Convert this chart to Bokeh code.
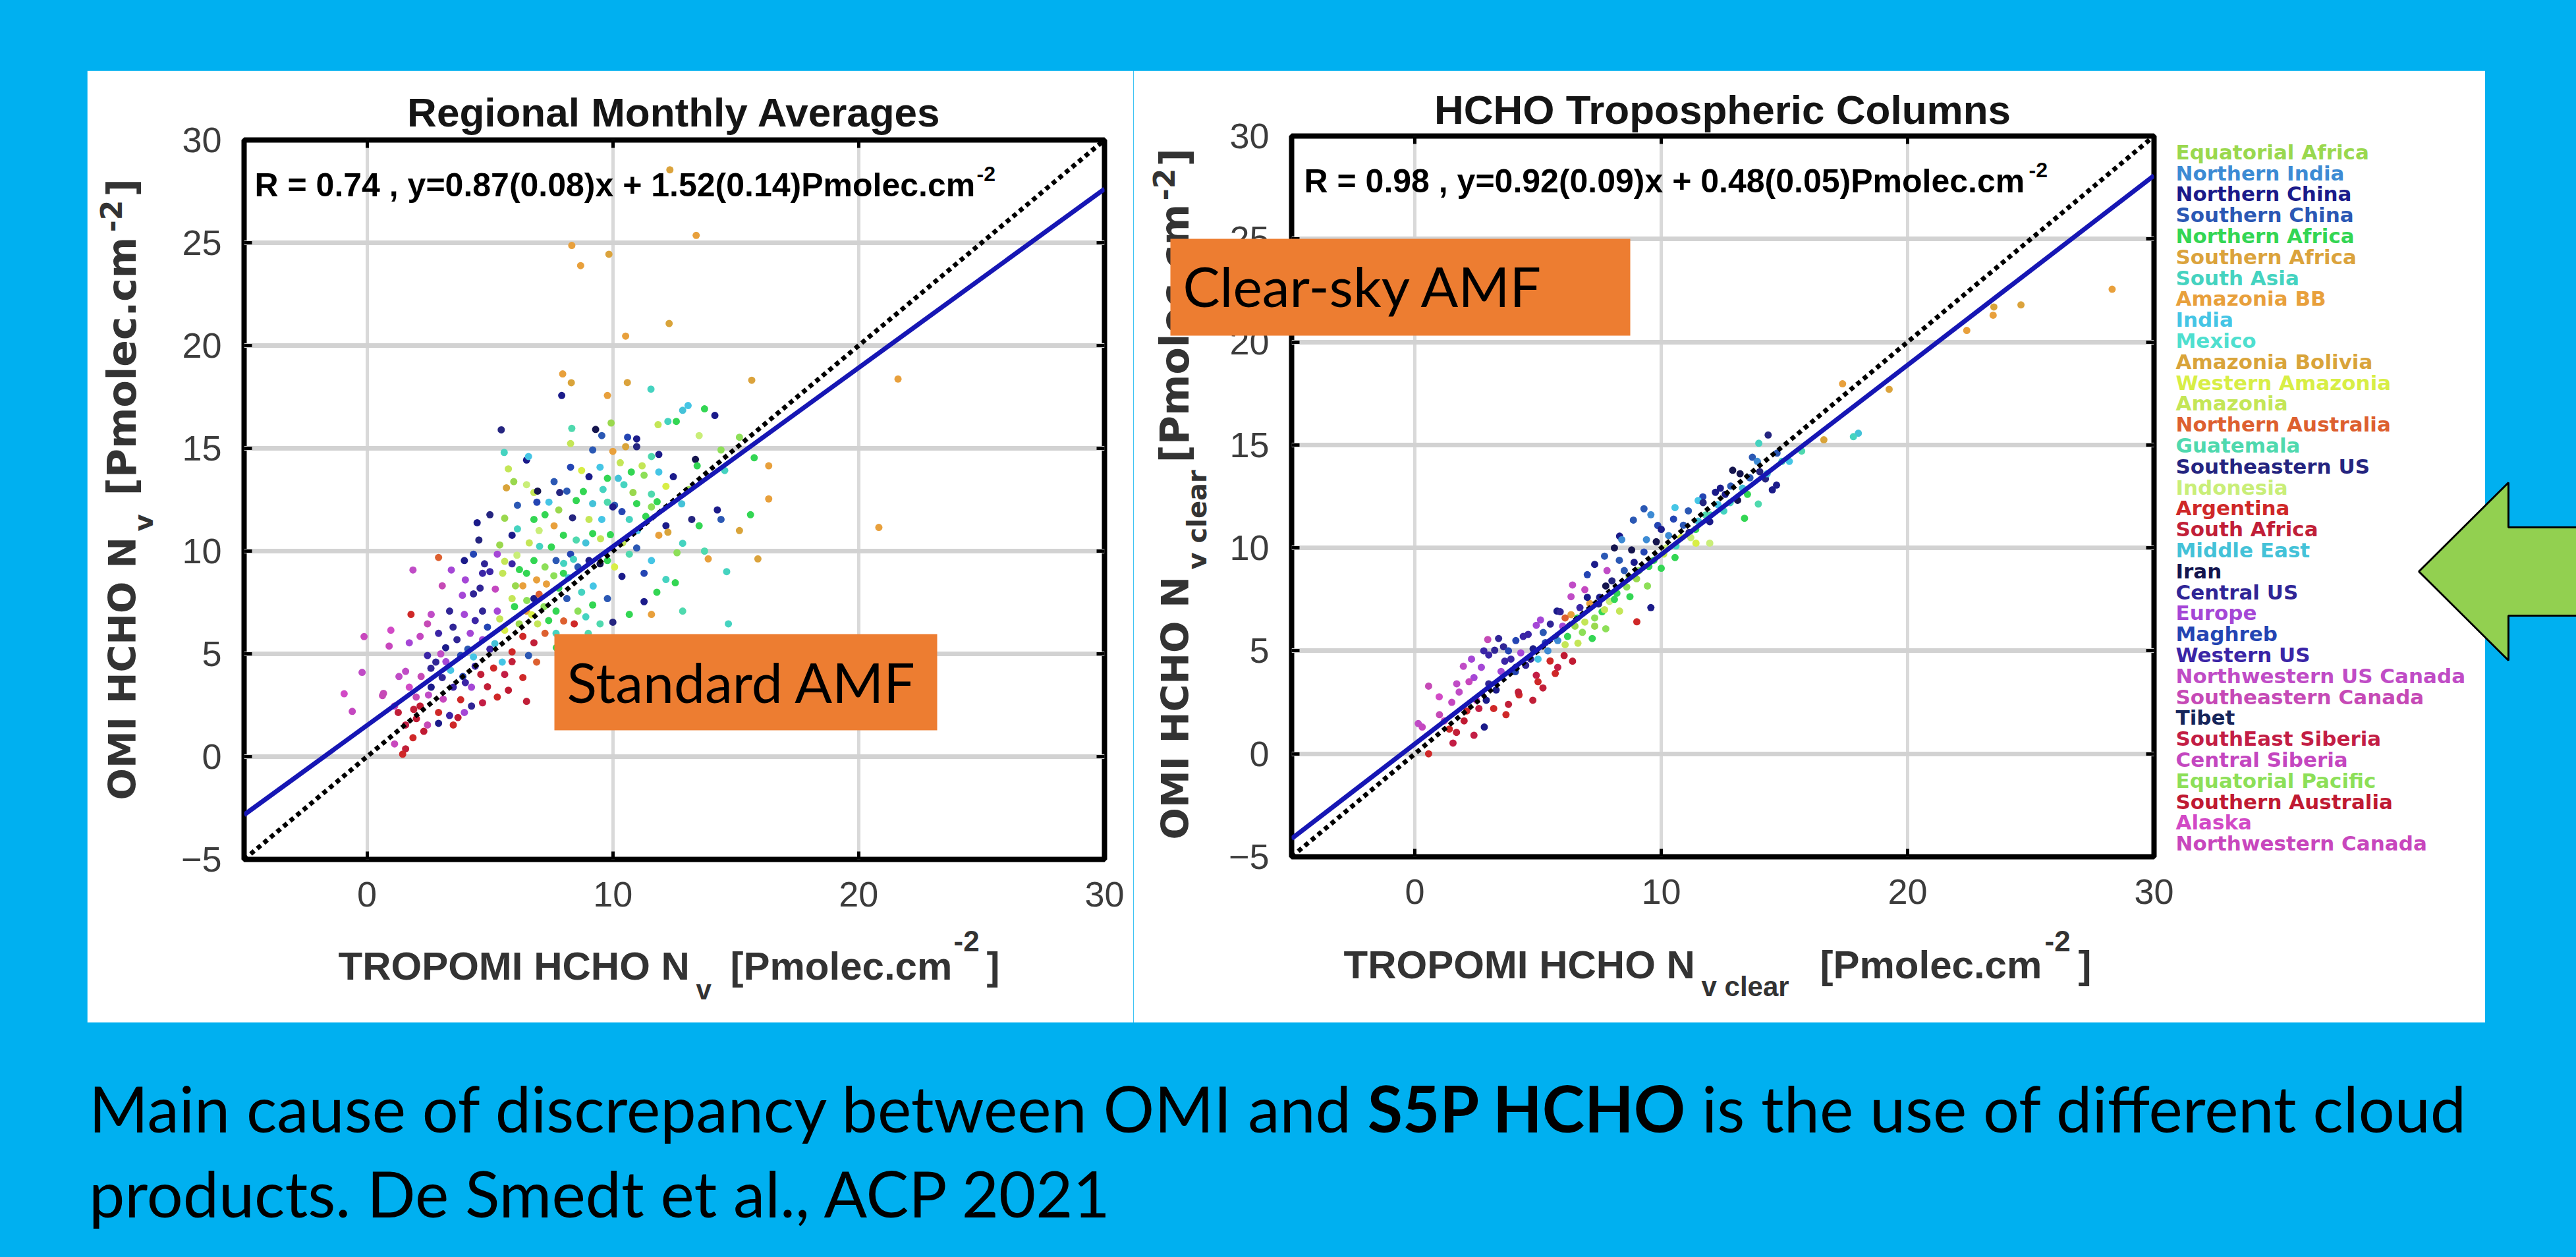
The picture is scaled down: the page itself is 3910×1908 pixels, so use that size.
import math
from bokeh.plotting import figure
from bokeh.models import (Range1d, FixedTicker, LinearAxis, ColumnDataSource, Div,
                          CustomJSTickFormatter, GlobalInlineStyleSheet)
from bokeh.core.properties import value
from bokeh.embed import file_html
from bokeh.resources import INLINE

# ---------------- data ----------------
regions = ["Equatorial Africa", "Northern India", "Northern China", "Southern China",
           "Northern Africa", "Southern Africa", "South Asia", "Amazonia BB", "India",
           "Mexico", "Amazonia Bolivia", "Western Amazonia", "Amazonia",
           "Northern Australia", "Guatemala", "Southeastern US", "Indonesia", "Argentina",
           "South Africa", "Middle East", "Iran", "Central US", "Europe", "Maghreb",
           "Western US", "Northwestern US Canada", "Southeastern Canada", "Tibet",
           "SouthEast Siberia", "Central Siberia", "Equatorial Pacific",
           "Southern Australia", "Alaska", "Northwestern Canada"]
region_colors = ["#9ad84e", "#3d8bd4", "#1b1b8a", "#2b58b4", "#33d653", "#dba33c",
                 "#45d3c0", "#e8a03c", "#45c5e5", "#4fdfcf", "#d9a43a", "#d8ee45",
                 "#c4e657", "#dd6030", "#4fd9ae", "#252580", "#c9ee78", "#cf2828",
                 "#c11f38", "#44c2d8", "#15154e", "#302596", "#a547d6", "#2445b3",
                 "#3b25a6", "#c04cc6", "#c64ab6", "#15255a", "#c31e45", "#c447c0",
                 "#8ddf58", "#c01a32", "#d24ac6", "#c847bd"]

x_ticks = [0, 10, 20, 30]
y_ticks = [-5, 0, 5, 10, 15, 20, 25, 30]
axis_min, axis_max = -5, 30

left_title = "Regional Monthly Averages"
right_title = "HCHO Tropospheric Columns"
left_stats = "R = 0.74 , y=0.87(0.08)x + 1.52(0.14)Pmolec.cm"
right_stats = "R = 0.98 , y=0.92(0.09)x + 0.48(0.05)Pmolec.cm"
left_fit = (0.87, 1.52)
right_fit = (0.92, 0.48)

left_x = [8.33, 8.69, 9.84, 13.39, 12.29, 10.52, 12.32, 7.96, 8.31, 21.6,
          15.65, 9.78, 7.92, 11.55, 10.59, 13.06, 12.84, 13.73, 14.15, 12.24,
          11.84, 12.58, 5.46, 8.33, 9.3, 9.93, 9.55, 10.6, 10.97, 13.51,
          15.15, 8.28, 9.18, 5.58, 6.49, 6.57, 10.0, 10.52, 10.97, 11.57,
          11.87, 13.36, 13.43, 14.4, 15.75, 16.34, 14.55, 5.75, 5.97, 5.67,
          6.49, 6.79, 7.61, 8.28, 8.73, 9.03, 8.13, 7.84, 9.48, 9.78,
          10.22, 10.75, 11.19, 11.27, 11.87, 12.46, 10.45, 10.82, 11.57, 12.16,
          10.97, 10.07, 9.78, 9.18, 8.51, 6.94, 6.91, 6.12, 7.4, 5.0,
          4.48, 5.6, 5.9, 6.12, 6.79, 7.24, 7.61, 7.99, 8.36, 8.51,
          9.03, 9.18, 9.55, 10.0, 10.37, 10.67, 11.34, 11.57, 12.16, 11.87,
          12.24, 13.21, 13.51, 14.25, 14.4, 15.6, 16.34, 15.15, 20.82, 12.84,
          13.73, 2.91, 1.87, 3.06, 3.43, 3.96, 4.33, 4.55, 5.3, 5.9,
          4.78, 4.7, 5.22, 4.33, 3.88, 5.52, 6.04, 6.34, 6.49, 6.79,
          7.24, 7.02, 7.69, 7.99, 8.28, 8.58, 9.03, 9.48, 9.78, 10.07,
          10.37, 10.67, 10.97, 11.27, 11.57, 11.79, 12.16, 12.54, 12.61, 13.88,
          14.63, 15.9, 12.84, 14.7, 11.57, 11.27, 10.67, 10.0, 9.78, 9.18,
          8.58, 8.73, 8.13, 7.69, 7.39, 6.94, 6.49, 6.19, 6.79, 5.9,
          5.3, 4.7, 4.4, 3.96, 3.36, 2.61, 1.79, 2.46, 2.16, 0.97,
          0.9, 1.72, 2.91, 3.66, 4.1, 4.7, 5.0, 5.6, 6.34, 6.79,
          7.24, 7.69, 8.43, 9.48, 6.57, 3.81, 4.33, 3.21, 2.46, 1.57,
          0.67, 1.12, 1.72, 2.16, 2.61, 3.06, 3.51, 3.81, 4.25, 4.63,
          5.15, 5.6, 5.9, 6.34, 5.75, 6.49, 4.7, 4.25, 2.91, 2.01,
          1.57, 2.46, 1.87, 1.57, 1.12, 2.31, 3.36, 2.91, 3.51, 3.96,
          1.27, -0.93, -0.2, -0.12, 0.63, -0.6, 1.45, 6.1, 5.4, 6.6,
          7.5, 8.0, 7.3, 7.0, 6.5, 7.8, 8.2, 9.2, 9.5, 3.2,
          2.6, 3.9, 5.2, 5.5, 4.4, 1.3, 2.0,
          4.0, 4.6, 5.0, 5.6, 6.2, 6.9, 7.6, 8.4, 8.9, 9.9,
          10.4, 11.0, 11.8, 12.8, 13.1, 7.0, 7.8, 8.8, 9.6, 10.3,
          3.0, 3.5, 4.2, 4.9, 5.4, 6.0, 6.7, 7.2, 8.0, 8.9,
          2.2, 2.8, 3.4, 4.0, 4.9, 5.3, 3.1, 2.5, 1.9, 3.7,
          5.9, 6.9, 7.7, 8.2, 9.0]
left_y = [24.87, 23.89, 24.44, 25.36, 21.07, 20.46, 28.55, 18.62, 18.19, 18.37,
          18.31, 17.57, 17.57, 17.88, 18.2, 17.08, 16.85, 16.92, 16.6, 16.31,
          16.15, 16.31, 15.9, 15.97, 15.92, 16.23, 15.62, 15.54, 15.46, 15.62,
          15.54, 15.23, 14.92, 14.8, 14.43, 14.6, 14.85, 15.08, 15.08, 14.6,
          14.7, 14.46, 14.15, 14.92, 14.54, 14.15, 13.92, 14.0, 13.38, 13.08,
          13.23, 12.85, 13.38, 14.08, 13.92, 13.62, 12.92, 12.85, 14.08, 13.54,
          13.54, 13.85, 14.15, 13.69, 13.85, 13.62, 13.23, 12.85, 12.77, 13.15,
          12.31, 12.23, 12.38, 12.31, 12.46, 12.92, 12.38, 12.23, 12.38, 11.77,
          11.38, 11.6, 10.77, 11.08, 11.54, 11.77, 11.23, 10.77, 11.62, 10.54,
          11.54, 10.85, 11.54, 12.15, 11.92, 11.54, 11.69, 12.15, 11.23, 10.77,
          10.92, 11.54, 11.23, 12.0, 11.54, 11.77, 12.54, 11.0, 11.15, 10.38,
          10.0, 9.69, 9.08, 8.31, 9.08, 9.54, 9.85, 10.54, 9.85, 9.38,
          9.38, 8.92, 8.15, 7.92, 7.85, 8.92, 8.31, 8.31, 8.92, 9.54,
          9.23, 10.23, 9.54, 8.92, 9.85, 9.23, 9.54, 9.38, 9.54, 9.23,
          8.77, 9.85, 10.15, 8.92, 9.54, 8.0, 8.62, 8.46, 9.92, 9.62,
          9.0, 9.62, 7.08, 6.46, 6.92, 7.54, 6.92, 6.54, 7.69, 7.38,
          7.08, 8.0, 7.69, 7.08, 6.62, 6.46, 7.08, 6.46, 7.69, 7.69,
          7.08, 7.08, 6.62, 6.92, 7.08, 6.92, 6.92, 6.46, 5.85, 6.15,
          5.38, 5.54, 6.0, 5.69, 5.23, 5.69, 5.23, 6.15, 5.85, 5.54,
          6.0, 6.0, 6.46, 6.46, 4.92, 4.92, 4.85, 4.62, 4.92, 4.15,
          3.08, 2.46, 3.38, 2.46, 3.38, 3.85, 3.38, 2.77, 3.38, 4.0,
          4.31, 4.0, 4.62, 3.85, 3.23, 2.69, 2.62, 2.46, 2.15, 1.85,
          1.54, 1.54, 0.92, 0.38, 0.62, 1.23, 2.0, 1.62, 1.54, 2.15,
          2.15, 3.06, 4.1, 5.84, 2.97, 2.2, 0.12, 9.8, 10.3, 10.4,
          10.2, 9.4, 8.4, 7.9, 7.6, 8.2, 8.7, 8.3, 10.6, 5.3,
          4.3, 3.9, 5.5, 4.6, 4.4, 3.9, 2.9,
          8.6, 8.2, 9.0, 9.5, 9.1, 8.6, 8.8, 9.6, 10.4, 10.8,
          10.4, 11.0, 12.4, 12.3, 13.0, 11.0, 12.0, 12.9, 13.0, 14.3,
          5.0, 6.3, 6.0, 6.3, 6.7, 7.3, 6.9, 7.3, 6.6, 6.8,
          3.9, 4.6, 4.2, 3.6, 3.4, 2.9, 2.8, 3.0, 2.3, 1.9,
          5.1, 4.6, 5.3, 5.7, 6.0]
left_region = [7, 7, 5, 7, 10, 7, 5, 7, 10, 7,
               5, 7, 2, 6, 5, 8, 19, 4, 2, 6,
               12, 4, 15, 14, 20, 0, 3, 23, 2, 16,
               30, 12, 3, 6, 2, 8, 7, 10, 15, 14,
               2, 20, 4, 30, 4, 7, 6, 12, 0, 10,
               16, 12, 3, 23, 11, 2, 3, 15, 8, 4,
               19, 4, 12, 30, 8, 2, 6, 0, 14, 11,
               4, 3, 14, 19, 4, 20, 23, 3, 8, 15,
               2, 0, 2, 6, 4, 4, 7, 4, 15, 14,
               12, 4, 8, 2, 23, 6, 4, 30, 2, 7,
               10, 15, 4, 2, 3, 4, 7, 10, 7, 6,
               14, 13, 25, 26, 22, 2, 23, 15, 22, 24,
               21, 24, 29, 21, 22, 12, 0, 7, 4, 4,
               30, 6, 3, 4, 23, 3, 2, 20, 4, 11,
               2, 14, 3, 23, 8, 4, 6, 4, 30, 7,
               6, 5, 14, 6, 7, 2, 4, 15, 3, 4,
               30, 6, 3, 4, 4, 12, 7, 0, 2, 12,
               22, 21, 24, 22, 21, 25, 17, 26, 29, 32,
               33, 22, 24, 21, 3, 22, 24, 11, 17, 18,
               13, 6, 17, 14, 3, 23, 8, 22, 24, 25,
               26, 29, 32, 31, 2, 21, 24, 17, 22, 18,
               17, 28, 18, 17, 31, 18, 28, 21, 17, 31,
               28, 26, 17, 18, 33, 31, 24, 2, 17, 22,
               18, 32, 25, 33, 26, 29, 17, 16, 0, 12,
               4, 6, 7, 13, 30, 4, 19, 8, 12, 2,
               21, 23, 19, 8, 24, 25, 26,
               22, 21, 24, 12, 4, 7, 30, 6, 19, 4,
               12, 8, 4, 19, 0, 16, 0, 4, 6, 12,
               25, 21, 22, 23, 12, 4, 11, 30, 13, 6,
               26, 21, 8, 24, 18, 17, 33, 25, 18, 31,
               17, 13, 4, 30, 14]

right_x = [0.56, 0.14, 0.3, 0.56, 0.99, 1.69, 1.55, 2.11, 1.97, 2.4,
           2.82, 2.96, 3.24, 3.65, 4.08, 4.23, 4.79, 4.93, 5.49, 6.06,
           6.62, 7.2, 7.75, 5.21, 4.93, 5.77, 6.34, 6.9, 6.34, 6.1,
           7.46, 7.75, 8.31, 8.87, 9.58, 9.86, 9.58, 9.01, 8.31, 8.73,
           9.44, 10.0, 10.56, 11.41, 11.97, 11.13, 11.97, 12.54, 13.1, 13.38,
           13.94, 14.51, 14.23, 12.82, 11.69, 10.56, 28.3, 24.6, 23.47, 23.5,
           22.4, 19.25, 17.36, 16.6, 18.0, 17.8, 15.7, 14.68, 14.34, 13.96,
           13.7, 12.9, 12.2, 11.5, 9.3, 1.2, 1.5, 1.8, 2.2, 2.5,
           2.7, 3.0, 3.0, 3.3, 3.5, 3.6, 3.9, 4.1, 4.3, 4.5,
           4.6, 4.8, 5.0, 5.3, 5.5, 5.8, 6.0, 6.2, 6.5, 6.7,
           6.9, 7.1, 7.3, 7.5, 7.6, 7.9, 8.0, 8.2, 8.5, 8.6,
           8.9, 9.0, 9.3, 9.5, 9.8, 10.1, 10.3, 10.6, 10.9, 11.2,
           11.5, 11.8, 12.3, 12.6, 13.3, 13.6, 14.0, 14.9, 6.4, 7.0,
           7.3, 7.7, 8.1, 8.4, 5.7, 5.2, 6.4, 3.7, 2.4, 3.8,
           1.0, 1.4, 2.0, 2.6, 2.9, 3.2, 1.7, 2.3, 2.8, 3.4,
           3.8, 4.1, 4.4, 4.7, 5.1, 5.4, 5.9, 6.1, 6.6, 6.8,
           7.0, 7.3, 7.7, 7.8, 8.1, 8.3, 8.7, 8.8, 9.1, 9.4,
           9.7, 10.0, 10.2, 10.5, 10.8, 11.1, 11.4, 11.7, 12.0, 12.4,
           12.8, 13.2, 13.5, 13.9, 14.3, 14.7, 15.2, 4.2, 5.0, 5.8]
right_y = [0.0, 1.47, 1.3, 3.29, 2.77, 1.04, 0.52, 2.08, 4.25, 3.7,
           1.3, 5.55, 5.03, 4.5, 3.99, 2.86, 2.6, 3.81, 4.51, 4.77,
           5.37, 5.6, 6.07, 5.89, 6.24, 6.93, 7.63, 7.97, 6.76, 6.6,
           7.28, 8.15, 10.57, 11.35, 11.61, 11.09, 7.1, 6.41, 6.93, 7.63,
           8.15, 9.01, 9.53, 10.23, 10.23, 10.75, 11.27, 11.79, 12.31, 11.44,
           12.13, 12.82, 13.35, 13.0, 12.48, 11.96, 22.56, 21.8, 21.3, 21.7,
           20.56, 17.7, 17.97, 15.25, 15.57, 15.4, 14.7, 13.05, 15.48, 15.08,
           14.4, 13.77, 12.7, 12.3, 11.9, 1.6, 2.5, 3.0, 3.5, 2.6,
           4.2, 3.4, 4.8, 3.1, 4.0, 5.2, 4.6, 5.5, 4.9, 4.3,
           5.8, 5.1, 4.6, 5.4, 6.3, 5.5, 6.2, 5.7, 6.2, 7.1,
           6.4, 7.3, 6.6, 7.6, 6.9, 7.4, 8.4, 7.8, 8.9, 8.1,
           9.3, 8.5, 9.8, 9.1, 10.3, 9.7, 10.6, 10.1, 11.1, 10.5,
           11.3, 11.6, 12.1, 12.6, 12.9, 13.4, 13.7, 14.2, 8.2, 8.7,
           9.2, 9.6, 10.0, 10.4, 3.9, 3.2, 4.5, 1.9, 0.9, 2.4,
           1.9, 1.2, 1.6, 2.2, 2.6, 2.2, 3.4, 4.6, 5.0, 5.6,
           5.0, 4.2, 5.7, 4.6, 6.5, 5.0, 6.9, 5.3, 6.6, 5.9,
           7.6, 6.2, 7.0, 8.9, 7.5, 9.4, 8.6, 9.9, 8.9, 10.4,
           9.4, 10.9, 10.0, 11.4, 10.5, 11.8, 10.9, 12.2, 11.6, 12.9,
           12.2, 13.6, 12.6, 14.2, 13.6, 14.6, 14.2, 3.0, 3.5, 4.2]
right_region = [17, 25, 29, 26, 32, 18, 28, 17, 25, 22,
                2, 26, 21, 24, 23, 17, 18, 28, 17, 31,
                12, 4, 30, 3, 22, 2, 25, 29, 7, 13,
                15, 20, 2, 3, 1, 23, 2, 17, 12, 4,
                30, 4, 4, 11, 16, 15, 2, 6, 20, 4,
                14, 2, 15, 3, 23, 8, 7, 5, 7, 10,
                7, 5, 7, 10, 19, 6, 14, 2, 15, 6,
                3, 20, 2, 8, 3, 26, 29, 25, 33, 32,
                22, 21, 24, 2, 22, 21, 24, 23, 22, 21,
                24, 2, 8, 23, 21, 1, 22, 4, 0, 24,
                12, 7, 30, 2, 4, 16, 15, 4, 3, 30,
                2, 0, 23, 4, 20, 12, 1, 6, 3, 16,
                19, 14, 8, 2, 19, 3, 15, 6, 25, 23,
                2, 3, 20, 1, 17, 18, 31, 17, 28, 18,
                26, 17, 31, 28, 2, 17, 25, 22, 24, 21,
                23, 2, 24, 21, 22, 1, 21, 12, 4, 30,
                2, 0, 12, 25, 4, 3, 0, 20, 30, 1,
                4, 2, 16, 23, 11, 3, 4, 15, 14, 2,
                6, 20, 4, 1, 19, 3, 8, 18, 17, 28]

# ---------------- layout constants (page pixels) ----------------
PAGE_W, PAGE_H = 3910, 1908
ORANGE = "#ED7D31"
PANEL_L, PANEL_T, PANEL_R, PANEL_B = 132, 107, 3772, 1552
SPLIT = 1720
SANS = "Liberation Sans"
WIDE = "DejaVu Sans"
LABEL_GREY = "#333333"
BASE_FIX = 0.38   # text glyphs sit this fraction of their size below the anchor


def place(x, y):
    return {"position": "absolute", "left": f"{x}px", "top": f"{y}px"}


def make_fig(x0, x1, fl, fr, ft, fb, xs, ys, regs, fit):
    w, h = x1 - x0, PANEL_B - PANEL_T
    p = figure(width=w, height=h,
               x_range=Range1d(axis_min, axis_max), y_range=Range1d(axis_min, axis_max),
               output_backend="svg", toolbar_location=None, tools="",
               min_border_left=fl - x0, min_border_right=x1 - fr,
               min_border_top=ft - PANEL_T, min_border_bottom=PANEL_B - fb,
               background_fill_color="white", border_fill_color="white",
               outline_line_color="black", outline_line_width=8,
               styles=place(x0, PANEL_T))
    p.xaxis.ticker = FixedTicker(ticks=x_ticks)
    p.yaxis.ticker = FixedTicker(ticks=y_ticks)
    for ax in (p.xaxis[0], p.yaxis[0]):
        ax.axis_line_color = None
        ax.major_tick_in = 12
        ax.major_tick_out = 0
        ax.major_tick_line_width = 5
        ax.minor_tick_line_color = None
        ax.major_label_text_font = SANS
        ax.major_label_text_font_size = "54px"
        ax.major_label_text_color = "#3c3c3c"
    p.xaxis.major_label_standoff = 34
    p.yaxis.major_label_standoff = 34
    for side, ticks in (("above", x_ticks), ("right", y_ticks)):
        ax = LinearAxis(ticker=FixedTicker(ticks=ticks),
                        formatter=CustomJSTickFormatter(code="return ''"),
                        axis_line_color=None, major_tick_in=12, major_tick_out=0,
                        major_tick_line_width=5, minor_tick_line_color=None,
                        major_label_standoff=0)
        p.add_layout(ax, side)
    p.xgrid.grid_line_color = "#d9d9d9"
    p.xgrid.grid_line_width = 5
    p.ygrid.grid_line_color = "#d2d2d2"
    p.ygrid.grid_line_width = 7

    src = ColumnDataSource(dict(x=xs, y=ys, c=[region_colors[r] for r in regs]))
    p.scatter("x", "y", source=src, size=11, fill_color="c", line_color=None)
    ends = [axis_min, axis_max]
    p.line(ends, ends, line_color="black", line_width=7, line_dash="7 6")
    p.line(ends, [fit[0] * v + fit[1] for v in ends], line_color="#1616b4", line_width=7)
    return p


pl = make_fig(PANEL_L, SPLIT, 370, 1676, 212, 1304, left_x, left_y, left_region, left_fit)
pr = make_fig(SPLIT, PANEL_R, 1960, 3269, 206, 1300, right_x, right_y, right_region, right_fit)

# ---------------- overlay in page pixel coordinates ----------------
page_css = GlobalInlineStyleSheet(
    css="html, body { margin: 0 !important; padding: 0 !important; "
        "background-color: #00B0F0 !important; overflow: hidden; }")
ov = figure(width=PAGE_W, height=PAGE_H, x_range=Range1d(0, PAGE_W),
            y_range=Range1d(PAGE_H, 0), output_backend="svg", toolbar_location=None,
            tools="", min_border=0, x_axis_location=None, y_axis_location=None,
            background_fill_color=None, border_fill_color=None, outline_line_color=None,
            styles=place(0, 0), stylesheets=[page_css])
ov.xgrid.visible = False
ov.ygrid.visible = False


def txt(x, y, s, size, font=SANS, bold=True, color="black", align="left", angle=0.0):
    # (x, y) is the wanted baseline point; correct for the glyph's baseline offset
    if angle:
        x -= BASE_FIX * size
    else:
        y -= BASE_FIX * size
    ov.text(x=[x], y=[y], text=[s], text_font=value(font),
            text_font_size=value(f"{size}px"),
            text_font_style="bold" if bold else "normal", text_color=color,
            text_align=align, text_baseline="alphabetic", angle=angle)


up = math.pi / 2
# titles and statistics
txt(1023, 194, left_title, 62, color="#151515", align="center")
txt(2614, 190, right_title, 62, color="#151515", align="center")
txt(386, 299, left_stats, 50)
txt(1482, 276, "-2", 32)
txt(1979, 293, right_stats, 50)
txt(3079, 270, "-2", 32)
# x axis labels
txt(513, 1489, "TROPOMI HCHO N", 60, color=LABEL_GREY)
txt(1056, 1518, "v", 42, color=LABEL_GREY)
txt(1108, 1489, "[Pmolec.cm", 60, color=LABEL_GREY)
txt(1447, 1445, "-2", 44, color=LABEL_GREY)
txt(1497, 1489, "]", 60, color=LABEL_GREY)
txt(2039, 1487, "TROPOMI HCHO N", 60, color=LABEL_GREY)
txt(2582, 1513, "v clear", 42, color=LABEL_GREY)
txt(2762, 1487, "[Pmolec.cm", 60, color=LABEL_GREY)
txt(3103, 1445, "-2", 44, color=LABEL_GREY)
txt(3154, 1487, "]", 60, color=LABEL_GREY)
# y axis labels (rotated, reading upwards)
txt(207, 1214, "OMI HCHO N", 57, font=WIDE, color=LABEL_GREY, angle=up)
txt(233, 806, "v", 40, font=WIDE, color=LABEL_GREY, angle=up)
txt(207, 752, "[Pmolec.cm", 60, font=WIDE, color=LABEL_GREY, angle=up)
txt(185, 352, "-2", 44, font=WIDE, color=LABEL_GREY, angle=up)
txt(207, 298, "]", 60, font=WIDE, color=LABEL_GREY, angle=up)
txt(1805, 1274, "OMI HCHO N", 57, font=WIDE, color=LABEL_GREY, angle=up)
txt(1832, 864, "v clear", 40, font=WIDE, color=LABEL_GREY, angle=up)
txt(1805, 702, "[Pmolec.cm", 60, font=WIDE, color=LABEL_GREY, angle=up)
txt(1783, 304, "-2", 44, font=WIDE, color=LABEL_GREY, angle=up)
txt(1805, 252, "]", 60, font=WIDE, color=LABEL_GREY, angle=up)
# region list, one colour per region
LEG_SIZE = 31
leg = ColumnDataSource(dict(x=[3302] * len(regions),
                            y=[242 + 31.8 * i - BASE_FIX * LEG_SIZE
                               for i in range(len(regions))],
                            t=regions, c=region_colors))
ov.text(x="x", y="y", text="t", source=leg, text_color="c", text_font=value(WIDE),
        text_font_size=value(f"{LEG_SIZE}px"), text_font_style="bold",
        text_align="left", text_baseline="alphabetic")
# orange call-outs
ov.quad(left=[841], right=[1422], top=[962], bottom=[1108], fill_color=ORANGE, line_color=None)
txt(860, 1066, "Standard AMF", 84, font="Lato", bold=False)
ov.quad(left=[1776], right=[2474], top=[362], bottom=[509], fill_color=ORANGE, line_color=None)
txt(1795, 465, "Clear-sky AMF", 84, font="Lato", bold=False)
# green arrow
arrow_x = [3671, 3807, 3807, 3925, 3925, 3807, 3807]
arrow_y = [867, 732, 800, 800, 934, 934, 1002]
ov.patch(arrow_x, arrow_y, fill_color="#92D050", line_color="black", line_width=3)

# ---------------- caption ----------------
caption = Div(
    text=('<div style="padding:52px 0 0 130px; font-family:Lato; font-size:97px; '
          'line-height:129px; color:#000; white-space:nowrap;">'
          'Main cause of discrepancy between OMI and <b>S5P HCHO</b> is the use of '
          'different cloud<br>products. De Smedt et al., ACP 2021</div>'),
    width=PAGE_W, height=PAGE_H - 1560, styles=place(0, 1560))

open("out.html", "w").write(file_html([pl, pr, ov, caption], INLINE))
